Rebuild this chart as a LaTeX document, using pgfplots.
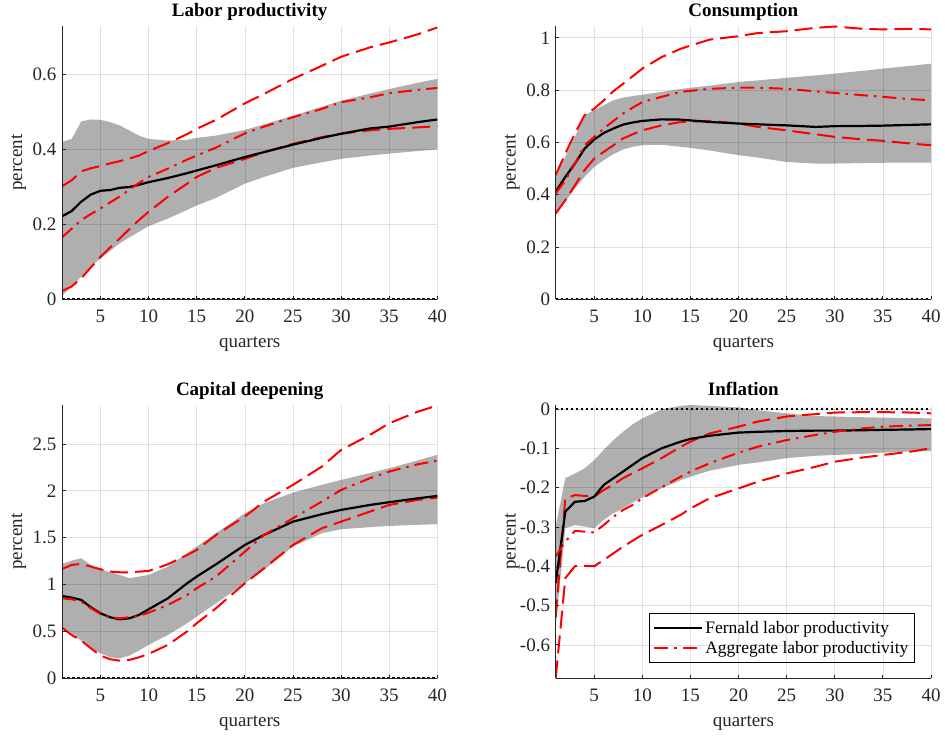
\documentclass[border=0pt]{standalone}
\usepackage{fontspec}
\setmainfont{Liberation Serif}
\usepackage{pgfplots}
\pgfplotsset{compat=1.18}
\usepackage{pgfplotstable}
\usepgfplotslibrary{fillbetween}

\definecolor{axgray}{RGB}{38,38,38}
\definecolor{bandgray}{RGB}{175,175,175}

\pgfplotstableread{
q fm bu bl am au al
1 0.221 0.419 0.009 0.165 0.301 0.022
2 0.235 0.427 0.035 0.188 0.317 0.034
3 0.260 0.474 0.060 0.211 0.341 0.056
4 0.279 0.479 0.087 0.227 0.349 0.085
5 0.289 0.478 0.109 0.242 0.355 0.113
6 0.291 0.472 0.129 0.258 0.362 0.138
7 0.297 0.463 0.149 0.274 0.368 0.162
8 0.299 0.450 0.165 0.292 0.375 0.187
9 0.305 0.436 0.180 0.310 0.383 0.211
10 0.312 0.427 0.195 0.326 0.395 0.233
12 0.323 0.423 0.215 0.348 0.416 0.273
14 0.336 0.425 0.238 0.372 0.440 0.308
15 0.343 0.430 0.250 0.383 0.454 0.326
17 0.357 0.436 0.270 0.404 0.478 0.350
20 0.379 0.451 0.308 0.442 0.522 0.374
22 0.392 0.466 0.326 0.460 0.547 0.392
25 0.412 0.489 0.350 0.485 0.587 0.414
28 0.430 0.513 0.365 0.507 0.622 0.432
30 0.441 0.529 0.374 0.525 0.646 0.441
33 0.455 0.548 0.383 0.538 0.671 0.450
35 0.460 0.560 0.388 0.549 0.684 0.454
38 0.472 0.577 0.395 0.558 0.706 0.458
40 0.479 0.587 0.399 0.563 0.724 0.461
}\lp

\pgfplotstableread{
q fm bu bl am au al
1 0.411 0.481 0.322 0.405 0.475 0.328
2 0.468 0.545 0.373 0.455 0.557 0.379
3 0.519 0.621 0.424 0.519 0.634 0.436
4 0.576 0.704 0.468 0.589 0.704 0.494
5 0.611 0.723 0.506 0.621 0.729 0.538
6 0.636 0.742 0.532 0.653 0.761 0.564
7 0.653 0.761 0.555 0.682 0.796 0.589
8 0.668 0.771 0.573 0.710 0.824 0.615
9 0.676 0.777 0.583 0.733 0.853 0.631
10 0.682 0.782 0.589 0.754 0.882 0.646
12 0.688 0.793 0.591 0.774 0.926 0.665
14 0.687 0.804 0.583 0.793 0.958 0.678
15 0.684 0.809 0.579 0.797 0.970 0.680
17 0.678 0.817 0.569 0.805 0.993 0.682
20 0.672 0.831 0.551 0.809 1.006 0.672
22 0.669 0.837 0.542 0.809 1.018 0.659
25 0.665 0.847 0.525 0.805 1.025 0.646
28 0.659 0.856 0.519 0.795 1.038 0.631
30 0.662 0.863 0.519 0.789 1.043 0.621
33 0.663 0.874 0.521 0.780 1.034 0.611
35 0.664 0.882 0.522 0.774 1.032 0.606
38 0.667 0.893 0.523 0.765 1.034 0.595
40 0.669 0.901 0.523 0.761 1.032 0.589
}\cons

\pgfplotstableread{
q fm bu bl am au al
1 0.878 1.220 0.551 0.853 1.166 0.541
2 0.861 1.255 0.480 0.843 1.209 0.462
3 0.836 1.280 0.402 0.818 1.220 0.402
4 0.757 1.209 0.320 0.747 1.191 0.320
5 0.693 1.163 0.267 0.686 1.163 0.242
6 0.651 1.131 0.224 0.647 1.138 0.203
7 0.629 1.102 0.213 0.640 1.131 0.188
8 0.640 1.067 0.242 0.651 1.131 0.196
9 0.676 1.085 0.295 0.665 1.138 0.224
10 0.736 1.102 0.356 0.700 1.145 0.260
12 0.853 1.191 0.462 0.782 1.216 0.356
14 1.013 1.334 0.587 0.889 1.315 0.500
15 1.085 1.405 0.658 0.960 1.369 0.587
17 1.216 1.547 0.800 1.085 1.529 0.747
20 1.422 1.760 1.013 1.351 1.725 1.013
22 1.529 1.867 1.156 1.529 1.885 1.174
25 1.671 1.981 1.405 1.707 2.063 1.422
28 1.750 2.063 1.547 1.885 2.258 1.600
30 1.796 2.116 1.590 2.009 2.436 1.671
33 1.849 2.190 1.612 2.134 2.596 1.778
35 1.878 2.240 1.625 2.205 2.720 1.849
38 1.920 2.325 1.637 2.283 2.845 1.903
40 1.945 2.383 1.643 2.322 2.909 1.927
}\capd

\pgfplotstableread{
q fm bu bl am au al
1 -0.443 -0.299 -0.553 -0.375 -0.530 -0.685
2 -0.261 -0.176 -0.303 -0.337 -0.227 -0.430
3 -0.236 -0.164 -0.295 -0.310 -0.219 -0.400
4 -0.234 -0.151 -0.299 -0.312 -0.221 -0.399
5 -0.223 -0.130 -0.303 -0.314 -0.223 -0.400
6 -0.193 -0.104 -0.282 -0.295 -0.206 -0.384
7 -0.176 -0.079 -0.265 -0.274 -0.192 -0.367
8 -0.159 -0.058 -0.253 -0.257 -0.176 -0.350
9 -0.142 -0.039 -0.238 -0.244 -0.163 -0.335
10 -0.125 -0.024 -0.225 -0.227 -0.151 -0.320
12 -0.100 -0.001 -0.202 -0.199 -0.125 -0.295
14 -0.083 0.008 -0.181 -0.172 -0.096 -0.269
15 -0.076 0.010 -0.172 -0.159 -0.083 -0.253
17 -0.068 0.008 -0.157 -0.138 -0.062 -0.227
20 -0.060 0.004 -0.142 -0.111 -0.045 -0.202
22 -0.058 -0.003 -0.136 -0.096 -0.032 -0.185
25 -0.056 -0.011 -0.125 -0.079 -0.019 -0.164
28 -0.055 -0.018 -0.119 -0.066 -0.013 -0.147
30 -0.055 -0.019 -0.117 -0.058 -0.009 -0.134
33 -0.054 -0.021 -0.114 -0.049 -0.008 -0.123
35 -0.053 -0.022 -0.111 -0.045 -0.008 -0.117
38 -0.052 -0.023 -0.108 -0.042 -0.009 -0.108
40 -0.051 -0.024 -0.107 -0.041 -0.011 -0.100
}\infl

\pgfplotsset{
  irf/.style={
    scale only axis, width=375.3pt, height=273.3pt,
    xmin=1, xmax=40,
    xtick={5,10,15,20,25,30,35,40},
    xticklabels={5,10,15,20,25,30,35,40},
    axis x line*=bottom, axis y line*=left,
    axis line style={axgray, line width=0.8pt},
    tick style={axgray, line width=0.8pt},
    major tick length=3.5pt,
    tick align=inside,
    grid=major,
    major grid style={black, opacity=0.12, line width=0.6pt},
    axis on top,
    ticklabel style={font=\fontsize{19}{22}\selectfont, text=axgray},
    xticklabel style={anchor=base, inner sep=0pt, yshift=-23pt},
    yticklabel style={anchor=east, inner sep=0pt, xshift=-5.5pt},
    every axis title shift=0pt,
    title style={font=\fontsize{19}{22}\selectfont\bfseries, at={(0.5,1)}, anchor=base, inner sep=0pt, yshift=9pt},
    every axis x label/.style={at={(rel axis cs:0.5,0)}, anchor=base, inner sep=0pt, yshift=-48pt, font=\fontsize{19}{22}\selectfont, text=axgray},
    every axis y label/.style={at={(rel axis cs:0,0.5)}, xshift=-40pt, rotate=90, anchor=base, inner sep=0pt, font=\fontsize{19}{22}\selectfont, text=axgray},
    xlabel={quarters}, ylabel={percent},
  },
  fern/.style={black, line width=2.2pt},
  aggm/.style={red, line width=2pt, dash pattern=on 14pt off 6pt on 2.5pt off 6pt},
  aggb/.style={red, line width=2pt, dash pattern=on 18pt off 7pt},
  zline/.style={black, line width=2pt, dash pattern=on 2.5pt off 2.5pt, forget plot},
}

\newcommand{\panel}[1]{%
  \addplot[name path=up, draw=none, forget plot] table[x=q,y=bu]{#1};
  \addplot[name path=lo, draw=none, forget plot] table[x=q,y=bl]{#1};
  \addplot[bandgray, forget plot] fill between[of=up and lo];
  \addplot[aggb, forget plot] table[x=q,y=au]{#1};
  \addplot[aggb, forget plot] table[x=q,y=al]{#1};
  \addplot[fern] table[x=q,y=fm]{#1};
  \addplot[aggm] table[x=q,y=am]{#1};
  \addplot[zline] coordinates {(1,0) (40,0)};
}

\begin{document}
\begin{tikzpicture}
\path (0,0) rectangle (945pt,736pt);

\begin{axis}[irf, at={(62pt,436.7pt)}, anchor=south west,
  title={Labor productivity}, ymin=0, ymax=0.728,
  ytick={0,0.2,0.4,0.6}, yticklabels={0,0.2,0.4,0.6}]
\panel{\lp}
\end{axis}

\begin{axis}[irf, at={(555.7pt,436.7pt)}, anchor=south west,
  title={Consumption}, ymin=0, ymax=1.045,
  ytick={0,0.2,0.4,0.6,0.8,1}, yticklabels={0,0.2,0.4,0.6,0.8,1}]
\panel{\cons}
\end{axis}

\begin{axis}[irf, at={(62pt,57.7pt)}, anchor=south west,
  title={Capital deepening}, ymin=0, ymax=2.915,
  ytick={0,0.5,1,1.5,2,2.5}, yticklabels={0,0.5,1,1.5,2,2.5}]
\panel{\capd}
\node[anchor=base west, inner sep=0pt, font=\fontsize{19}{22}\selectfont, text=axgray] at ([xshift=3pt,yshift=4pt]rel axis cs:0,1) {×10\textsuperscript{-3}};
\end{axis}

\begin{axis}[irf, at={(555.7pt,57.7pt)}, anchor=south west,
  title={Inflation}, ymin=-0.685, ymax=0.0102,
  ytick={-0.6,-0.5,-0.4,-0.3,-0.2,-0.1,0}, yticklabels={-0.6,-0.5,-0.4,-0.3,-0.2,-0.1,0},
  legend style={at={(0.957,0.057)}, anchor=south east, draw=black, line width=0.8pt, fill=white,
    font=\fontsize{17.5}{20}\selectfont, inner xsep=4pt, inner ysep=5.5pt, row sep=2.5pt,
    nodes={inner sep=2pt}, cells={anchor=west}},
  legend image code/.code={\draw[#1] (0pt,0pt) -- (48pt,0pt);}]
\panel{\infl}
\addlegendentry{Fernald labor productivity}
\addlegendentry{Aggregate labor productivity\hspace{5pt}}
\end{axis}
\end{tikzpicture}
\end{document}
